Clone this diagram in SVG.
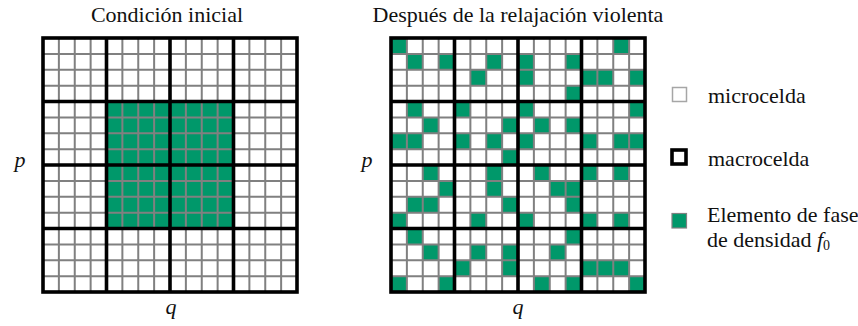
<svg xmlns="http://www.w3.org/2000/svg" xmlns:xlink="http://www.w3.org/1999/xlink" width="858" height="326" viewBox="0 0 858 326">
<style>
.t{font-family:'Liberation Serif','DejaVu Serif','Times New Roman',Times,serif;font-size:22px;fill:#111}
.i{font-style:italic}
.g{fill:#00986a}
.micro{fill:none;stroke:#808080;stroke-width:2}
.macro{fill:none;stroke:#000;stroke-width:3.6}
</style>
<defs>
<g id="grid">
<path class="micro" d="M15.875 0V254M31.75 0V254M47.625 0V254M79.375 0V254M95.25 0V254M111.125 0V254M142.875 0V254M158.75 0V254M174.625 0V254M206.375 0V254M222.25 0V254M238.125 0V254M0 15.875H254M0 31.75H254M0 47.625H254M0 79.375H254M0 95.25H254M0 111.125H254M0 142.875H254M0 158.75H254M0 174.625H254M0 206.375H254M0 222.25H254M0 238.125H254"/>
<path class="macro" d="M63.5 0V254M127 0V254M190.5 0V254M0 63.5H254M0 127H254M0 190.5H254"/>
<rect class="macro" x="0" y="0" width="254" height="254"/>
</g>
</defs>
<rect width="858" height="326" fill="#fff"/>

<g id="left-panel">
<text class="t" x="167" y="22" text-anchor="middle">Condición inicial</text>
<rect class="g" x="106.5" y="101.5" width="127" height="127"/>
<use xlink:href="#grid" x="43" y="38"/>
<text class="t i" x="20" y="167" text-anchor="middle">p</text>
<text class="t i" x="171" y="314" text-anchor="middle">q</text>
</g>

<g id="right-panel">
<text class="t" x="518" y="22" text-anchor="middle">Después de la relajación violenta</text>
<g transform="translate(391,38) scale(15.875)" class="g">
<rect x="0" y="0" width="1" height="1"/><rect x="14" y="0" width="1" height="1"/>
<rect x="1" y="1" width="1" height="1"/><rect x="3" y="1" width="1" height="1"/><rect x="6" y="1" width="1" height="1"/><rect x="8" y="1" width="1" height="1"/><rect x="11" y="1" width="1" height="1"/>
<rect x="5" y="2" width="1" height="1"/><rect x="8" y="2" width="1" height="1"/><rect x="12" y="2" width="1" height="1"/><rect x="13" y="2" width="1" height="1"/><rect x="15" y="2" width="1" height="1"/>
<rect x="11" y="3" width="1" height="1"/>
<rect x="1" y="4" width="1" height="1"/><rect x="4" y="4" width="1" height="1"/><rect x="8" y="4" width="1" height="1"/><rect x="15" y="4" width="1" height="1"/>
<rect x="2" y="5" width="1" height="1"/><rect x="7" y="5" width="1" height="1"/><rect x="9" y="5" width="1" height="1"/><rect x="11" y="5" width="1" height="1"/>
<rect x="0" y="6" width="1" height="1"/><rect x="1" y="6" width="1" height="1"/><rect x="4" y="6" width="1" height="1"/><rect x="6" y="6" width="1" height="1"/><rect x="8" y="6" width="1" height="1"/><rect x="12" y="6" width="1" height="1"/><rect x="14" y="6" width="1" height="1"/><rect x="15" y="6" width="1" height="1"/>
<rect x="7" y="7" width="1" height="1"/>
<rect x="2" y="8" width="1" height="1"/><rect x="6" y="8" width="1" height="1"/><rect x="9" y="8" width="1" height="1"/><rect x="12" y="8" width="1" height="1"/><rect x="14" y="8" width="1" height="1"/>
<rect x="3" y="9" width="1" height="1"/><rect x="6" y="9" width="1" height="1"/><rect x="10" y="9" width="1" height="1"/><rect x="11" y="9" width="1" height="1"/>
<rect x="1" y="10" width="1" height="1"/><rect x="2" y="10" width="1" height="1"/><rect x="7" y="10" width="1" height="1"/><rect x="11" y="10" width="1" height="1"/>
<rect x="0" y="11" width="1" height="1"/><rect x="5" y="11" width="1" height="1"/><rect x="8" y="11" width="1" height="1"/><rect x="12" y="11" width="1" height="1"/><rect x="14" y="11" width="1" height="1"/>
<rect x="1" y="12" width="1" height="1"/><rect x="11" y="12" width="1" height="1"/>
<rect x="2" y="13" width="1" height="1"/><rect x="5" y="13" width="1" height="1"/><rect x="7" y="13" width="1" height="1"/><rect x="10" y="13" width="1" height="1"/>
<rect x="4" y="14" width="1" height="1"/><rect x="7" y="14" width="1" height="1"/><rect x="12" y="14" width="1" height="1"/><rect x="13" y="14" width="1" height="1"/><rect x="14" y="14" width="1" height="1"/>
<rect x="0" y="15" width="1" height="1"/><rect x="3" y="15" width="1" height="1"/><rect x="9" y="15" width="1" height="1"/><rect x="11" y="15" width="1" height="1"/><rect x="15" y="15" width="1" height="1"/>
</g>
<use xlink:href="#grid" x="391" y="38"/>
<text class="t i" x="367" y="167" text-anchor="middle">p</text>
<text class="t i" x="518" y="314" text-anchor="middle">q</text>
</g>

<g id="legend-micro">
<rect x="672.5" y="87.5" width="14" height="14" fill="#fff" stroke="#a6a6a6" stroke-width="1.5"/>
<text class="t" x="708" y="103">microcelda</text>
</g>
<g id="legend-macro">
<rect x="672" y="150" width="14" height="14" fill="#fff" stroke="#000" stroke-width="3.6"/>
<text class="t" x="708" y="166">macrocelda</text>
</g>
<g id="legend-phase">
<rect class="g" x="672" y="213.5" width="14.5" height="14.5" stroke="#808080" stroke-width="1.2"/>
<text class="t" x="707" y="222">Elemento de fase</text>
<text class="t" x="707" y="247">de densidad <tspan class="i">f</tspan><tspan font-size="14" dy="3">0</tspan></text>
</g>
</svg>
